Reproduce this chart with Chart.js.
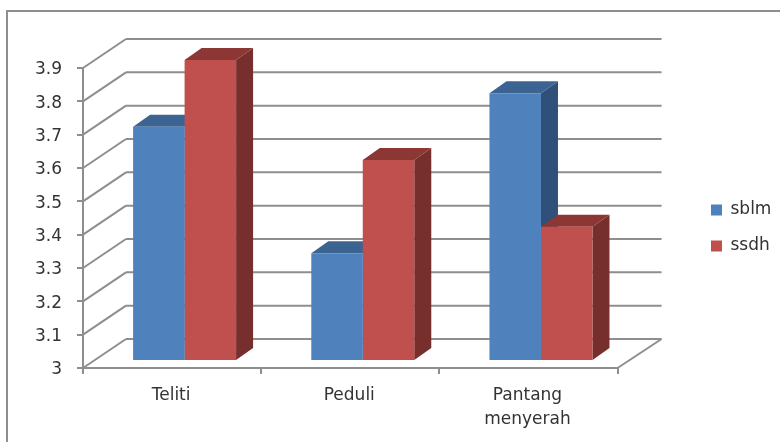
<!DOCTYPE html>
<html>
<head>
<meta charset="utf-8">
<style>
body { margin: 0; background: #fff; }
canvas { display: block; filter: blur(0.45px); }
</style>
<script src="https://cdn.jsdelivr.net/npm/chart.js@4/dist/chart.umd.min.js"></script>
</head>
<body>
<canvas id="grafik" width="780" height="442"></canvas>
<script>
var categories = ['Teliti', 'Peduli', ['Pantang', 'menyerah']];
var sblm = [3.7, 3.32, 3.8];
var ssdh = [3.9, 3.6, 3.4];
var yMin = 3;
var yMax = 3.9;
var yStep = 0.1;

var GREY = '#8e8e8e';
var TEXT = '#333333';
var FONT = '"DejaVu Sans", sans-serif';

// kedalaman 3D
var wall = { dx: 43, dy: 29 };
var shift = { dx: 12.5, dy: 8 };
var depth = { dx: 17, dy: 12 };
var shades = [
  { top: '#3b6493', side: '#2f5179' },
  { top: '#8c3734', side: '#772f2d' }
];

function line(ctx, x1, y1, x2, y2) {
  ctx.beginPath();
  ctx.moveTo(x1, y1);
  ctx.lineTo(x2, y2);
  ctx.stroke();
}

function poly(ctx, pts, color) {
  ctx.fillStyle = color;
  ctx.beginPath();
  ctx.moveTo(pts[0][0], pts[0][1]);
  for (var i = 1; i < pts.length; i++) ctx.lineTo(pts[i][0], pts[i][1]);
  ctx.closePath();
  ctx.fill();
}

var frame3d = {
  id: 'frame3d',
  // legenda jauh dari area grafik
  afterLayout: function (chart) {
    chart.legend.left = 692;
    chart.legend.right = 780;
    chart.legend.top = 170;
    chart.legend.bottom = 286;
  },
  beforeDraw: function (chart) {
    var ctx = chart.ctx;
    ctx.save();
    ctx.strokeStyle = GREY;
    ctx.lineWidth = 2;
    line(ctx, 7, 442, 7, 11);
    line(ctx, 6, 11, 780, 11);
    ctx.restore();
  },
  beforeDatasetsDraw: function (chart) {
    var ctx = chart.ctx;
    var a = chart.chartArea;
    var ys = chart.scales.y;
    ctx.save();
    ctx.strokeStyle = GREY;
    ctx.lineWidth = 2;
    ys.ticks.forEach(function (t) {
      var y = ys.getPixelForValue(t.value);
      line(ctx, a.left, y, a.left + wall.dx, y - wall.dy);
      line(ctx, a.left + wall.dx, y - wall.dy, a.right + wall.dx + 1, y - wall.dy);
    });
    line(ctx, a.right, a.bottom, a.right + wall.dx + 1, a.bottom - wall.dy);
    ctx.restore();

    // batang digeser ke tengah lantai
    ctx.save();
    ctx.translate(shift.dx, -shift.dy);
    chart.data.datasets.forEach(function (ds, i) {
      chart.getDatasetMeta(i).data.forEach(function (bar) {
        var l = bar.x - bar.width / 2;
        var r = bar.x + bar.width / 2;
        var b = a.bottom; // skala tidak mulai dari nol
        poly(ctx, [[r, bar.y], [r + depth.dx, bar.y - depth.dy], [r + depth.dx, b - depth.dy], [r, b]], shades[i].side);
        poly(ctx, [[l, bar.y], [l + depth.dx, bar.y - depth.dy], [r + depth.dx, bar.y - depth.dy], [r, bar.y]], shades[i].top);
      });
    });
  },
  afterDatasetsDraw: function (chart) {
    chart.ctx.restore();
  }
};

var ctx = document.getElementById('grafik').getContext('2d');
new Chart(ctx, {
  type: 'bar',
  data: {
    labels: categories,
    datasets: [
      { label: 'sblm', data: sblm, backgroundColor: '#4f81bd' },
      { label: 'ssdh', data: ssdh, backgroundColor: '#c0504d' }
    ]
  },
  options: {
    responsive: false,
    animation: false,
    devicePixelRatio: 1,
    categoryPercentage: 0.578,
    barPercentage: 1,
    layout: { padding: { top: 68, right: 73, left: 0, bottom: 0 } },
    plugins: {
      title: { display: false },
      tooltip: { enabled: false },
      legend: {
        position: 'right',
        labels: {
          color: TEXT,
          font: { family: FONT, size: 17 },
          boxWidth: 11,
          boxHeight: 11,
          padding: 19
        }
      }
    },
    scales: {
      x: {
        afterFit: function (s) { s.height = 74; },
        border: { color: GREY, width: 2 },
        grid: { offset: true, drawOnChartArea: false, color: GREY, lineWidth: 2, tickLength: 6 },
        ticks: {
          color: TEXT,
          font: { family: FONT, size: 17, lineHeight: 1.45 },
          padding: 9,
          maxRotation: 0,
          labelOffset: -1
        }
      },
      y: {
        min: yMin,
        max: yMax,
        afterFit: function (s) { s.width = 83; },
        afterBuildTicks: function (s) {
          s.ticks = [];
          for (var i = 0; i <= 9; i++) s.ticks.push({ value: +(yMin + i * yStep).toFixed(1) });
        },
        border: { color: GREY, width: 2 },
        grid: { drawOnChartArea: false, color: GREY, lineWidth: 2, tickLength: 6 },
        ticks: {
          color: TEXT,
          font: { family: FONT, size: 17 },
          padding: 15,
          labelOffset: 2,
          callback: function (v) { return String(v); }
        }
      }
    }
  },
  plugins: [frame3d]
});
</script>
</body>
</html>
